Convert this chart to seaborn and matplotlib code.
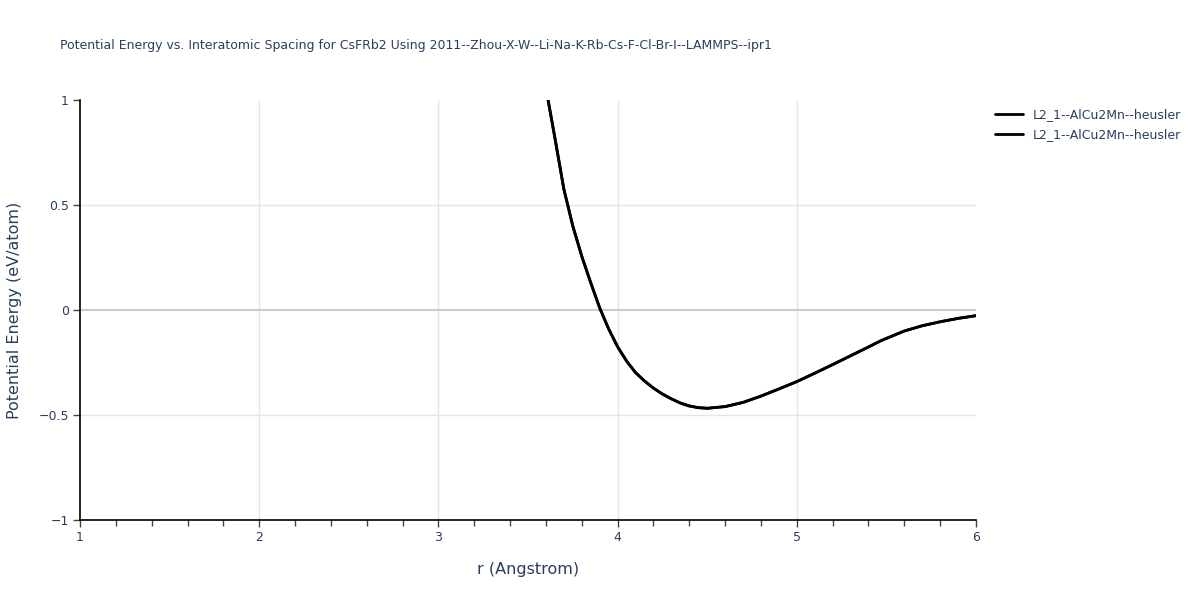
import numpy as np
import pandas as pd
import matplotlib
matplotlib.use("Agg")
import matplotlib.pyplot as plt
import seaborn as sns
from matplotlib.ticker import MultipleLocator

r_values = [3.55, 3.612, 3.65, 3.7, 3.75, 3.8, 3.85, 3.9, 3.95, 4.0, 4.05, 4.1,
            4.15, 4.2, 4.25, 4.3, 4.35, 4.4, 4.45, 4.5, 4.6, 4.7, 4.8, 4.9,
            5.0, 5.1, 5.2, 5.3, 5.4, 5.47, 5.6, 5.7, 5.8, 5.9, 6.0]
energy_values = [1.40, 1.0, 0.82, 0.576, 0.40, 0.256, 0.13, 0.01, -0.09, -0.175,
                 -0.243, -0.298, -0.338, -0.372, -0.40, -0.423, -0.443, -0.457,
                 -0.465, -0.468, -0.460, -0.440, -0.410, -0.376, -0.341, -0.301,
                 -0.260, -0.218, -0.176, -0.146, -0.100, -0.075, -0.056, -0.040, -0.027]
series_names = ["L2_1--AlCu2Mn--heusler", "L2_1--AlCu2Mn--heusler"]

title_text = "Potential Energy vs. Interatomic Spacing for CsFRb2 Using 2011--Zhou-X-W--Li-Na-K-Rb-Cs-F-Cl-Br-I--LAMMPS--ipr1"
text_color = "#2a3f5f"

sns.set_style("white")
plt.rcParams["font.family"] = ["DejaVu Sans"]

fig = plt.figure(figsize=(12, 6), dpi=100)
ax = fig.add_axes([80 / 1200, 80 / 600, 896 / 1200, 420 / 600])

df = pd.DataFrame({"r": r_values, "energy": energy_values})
for name in series_names:
    sns.lineplot(data=df, x="r", y="energy", ax=ax, color="black", linewidth=2,
                 label=name, sort=False, zorder=3)

ax.set_xlim(1, 6)
ax.set_ylim(-1, 1)
ax.set_xticks([1, 2, 3, 4, 5, 6])
ax.set_xticklabels(["1", "2", "3", "4", "5", "6"])
ax.xaxis.set_minor_locator(MultipleLocator(0.2))
ax.set_yticks([-1, -0.5, 0, 0.5, 1])
ax.set_yticklabels(["\u22121", "\u22120.5", "0", "0.5", "1"])

# interior grid only (no lines on the plot edges)
for gx in [2, 3, 4, 5]:
    ax.axvline(gx, color="#e5e5e5", linewidth=1, zorder=1)
for gy in [-0.5, 0.5]:
    ax.axhline(gy, color="#e5e5e5", linewidth=1, zorder=1)
ax.axhline(0, color="#cccccc", linewidth=1.5, zorder=1)

for side in ["top", "right"]:
    ax.spines[side].set_visible(False)
for side in ["left", "bottom"]:
    ax.spines[side].set_color("black")
    ax.spines[side].set_linewidth(1.2)

ax.tick_params(axis="both", which="major", direction="out", length=5, width=1,
               color="#444444", labelcolor=text_color, labelsize=9, pad=3)
ax.tick_params(axis="x", which="minor", direction="out", length=4, width=1,
               color="#444444")
ax.tick_params(left=True, bottom=True, which="both")

ax.set_xlabel("r (Angstrom)", fontsize=11.5, color=text_color, labelpad=13)
ax.set_ylabel("Potential Energy (eV/atom)", fontsize=11.5, color=text_color, labelpad=12)

fig.text(60 / 1200, 1 - 45 / 600, title_text, fontsize=9, color=text_color,
         ha="left", va="center")

leg = ax.legend(loc="upper left", bbox_to_anchor=(990 / 1200, 1 - 103 / 600),
                bbox_transform=fig.transFigure, frameon=False, fontsize=9,
                handlelength=2.2, labelspacing=0.55, borderaxespad=0)
for t in leg.get_texts():
    t.set_color(text_color)

fig.savefig("out.png", dpi=100)
